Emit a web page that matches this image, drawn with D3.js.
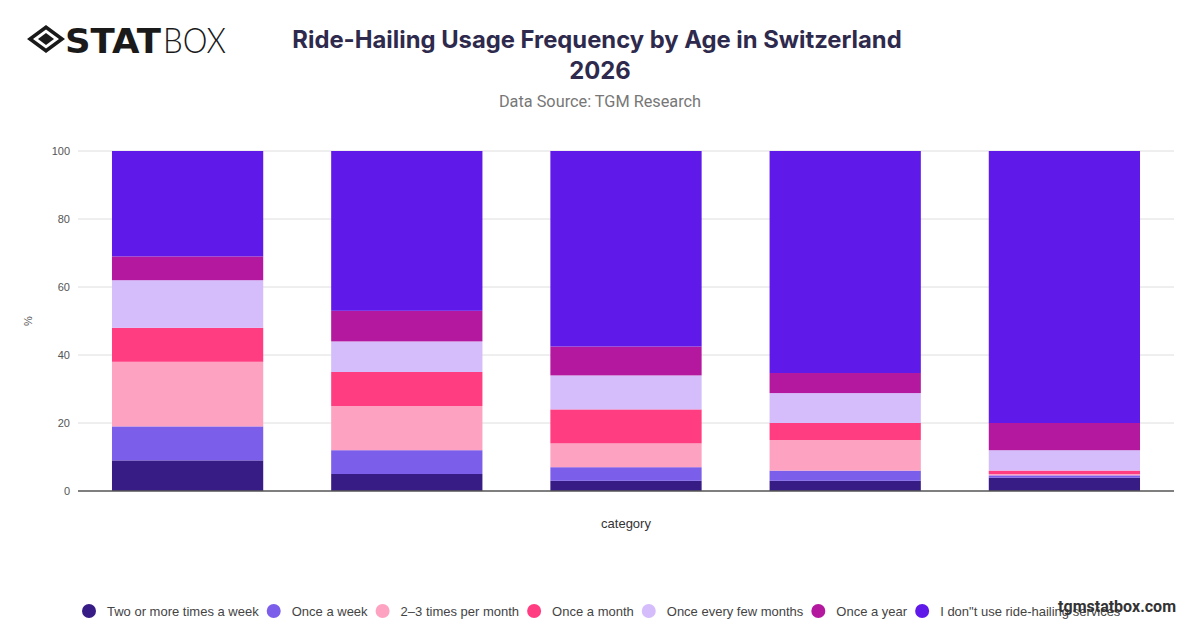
<!DOCTYPE html>
<html><head><meta charset="utf-8">
<script src="https://cdn.jsdelivr.net/npm/d3@7/dist/d3.min.js"></script>
<style>
body{margin:0;background:#fff;}
svg{display:block;}
</style></head>
<body>
<svg id="chart" width="1200" height="628"></svg>
<script>
const categories = ["18–24", "25–34", "35–44", "45–54", "55+"];
const seriesNames = ["Two or more times a week", "Once a week", "2–3 times per month", "Once a month", "Once every few months", "Once a year", "I don\"t use ride-hailing services"];
const twoOrMore   = [9, 5, 3, 3, 3.9];
const onceWeek    = [10, 7, 4, 3, 0.7];
const twoThree    = [19, 13, 7, 9, 0.4];
const onceMonth   = [10, 10, 10, 5, 1];
const fewMonths   = [14, 9, 10, 8.8, 6];
const onceYear    = [7, 9, 8.5, 5.9, 8];
const dontUse     = [31, 47, 57.5, 65.3, 80];
const yTicks = [0, 20, 40, 60, 80, 100];
const colors = ["#381c86", "#7b5ee9", "#fda2c1", "#ff3d80", "#d5bcfb", "#b3189f", "#5f19e9"];

const seriesValues = [twoOrMore, onceWeek, twoThree, onceMonth, fewMonths, onceYear, dontUse];
const rows = categories.map((c, i) => {
  const r = {category: c};
  seriesNames.forEach((s, j) => r[s] = seriesValues[j][i]);
  return r;
});

const svg = d3.select("#chart");
const margin = {left: 78, right: 26, top: 151, bottom: 137};
const W = 1200, H = 628;

const x = d3.scaleBand().domain(categories).range([margin.left, W - margin.right]).paddingInner(0.31).paddingOuter(0.155);
const y = d3.scaleLinear().domain([0, 100]).range([H - margin.bottom, margin.top]);

// grid
svg.append("g").selectAll("line").data(yTicks.filter(t => t > 0)).join("line")
  .attr("x1", margin.left).attr("x2", W - margin.right)
  .attr("y1", d => y(d)).attr("y2", d => y(d))
  .attr("stroke", "#dedede").attr("stroke-width", 1);

// stacks
const stack = d3.stack().keys(seriesNames)(rows);
svg.append("g").selectAll("g").data(stack).join("g")
  .attr("fill", (d, i) => colors[i])
  .selectAll("rect").data(d => d).join("rect")
  .attr("x", d => x(d.data.category))
  .attr("width", x.bandwidth())
  .attr("y", d => y(d[1]))
  .attr("height", d => y(d[0]) - y(d[1]));

// y axis
const yAxis = svg.append("g").attr("transform", `translate(${margin.left - 8},0)`)
  .call(d3.axisLeft(y).tickValues(yTicks).tickSize(0).tickPadding(0));
yAxis.select(".domain").remove();
yAxis.selectAll("text").attr("font-family", "Liberation Sans, Arial, sans-serif").attr("font-size", 11).attr("fill", "#555");

// x axis
const xAxis = svg.append("g").attr("transform", `translate(0,${y(0)})`)
  .call(d3.axisBottom(x).tickSize(0).tickFormat(() => ""));
xAxis.select(".domain").attr("stroke", "#555").attr("stroke-width", 1.5).attr("d", `M${margin.left},0H${W - margin.right}`);

// axis titles
svg.append("text").attr("x", (margin.left + W - margin.right) / 2).attr("y", 528)
  .attr("text-anchor", "middle").attr("font-family", "Liberation Sans, Arial, sans-serif")
  .attr("font-size", 13).attr("fill", "#333").text("category");
svg.append("text").attr("transform", `translate(32,${(y(0) + y(100)) / 2}) rotate(-90)`)
  .attr("text-anchor", "middle").attr("font-family", "Liberation Sans, Arial, sans-serif")
  .attr("font-size", 11).attr("fill", "#555").text("%");

// title
svg.append("text").attr("x", 597).attr("y", 48).attr("text-anchor", "middle")
  .attr("font-family", "Inter, Roboto, sans-serif").attr("font-weight", 700).attr("font-size", 23.8)
  .attr("fill", "#2e2a4d").text("Ride-Hailing Usage Frequency by Age in Switzerland");
svg.append("text").attr("x", 600).attr("y", 79).attr("text-anchor", "middle")
  .attr("font-family", "Inter, Roboto, sans-serif").attr("font-weight", 700).attr("font-size", 23.8)
  .attr("fill", "#2e2a4d").text("2026");
svg.append("text").attr("x", 600).attr("y", 107).attr("text-anchor", "middle")
  .attr("font-family", "Roboto, Inter, sans-serif").attr("font-size", 16.3)
  .attr("fill", "#777").text("Data Source: TGM Research");

// logo
const logo = svg.append("g").attr("transform", "translate(27,25)");
logo.append("path").attr("d", "M19,0 L38,14 L19,28 L0,14 Z M19,4.5 L32,14 L19,23.5 L6,14 Z").attr("fill", "#1a1a1a").attr("fill-rule", "evenodd");
logo.append("path").attr("d", "M19,8 L27,14 L19,20 L11,14 Z").attr("fill", "#1a1a1a");
logo.append("text").attr("x", 38).attr("y", 28).attr("font-family", "DejaVu Sans, sans-serif").attr("font-weight", 900)
  .attr("font-size", 34).attr("fill", "#1a1a1a").attr("textLength", 96).attr("lengthAdjust", "spacingAndGlyphs").text("STAT");
logo.append("text").attr("x", 136).attr("y", 28).attr("font-family", "Lato, sans-serif").attr("font-weight", 300)
  .attr("font-size", 36).attr("fill", "#1a1a1a").attr("textLength", 63).attr("lengthAdjust", "spacingAndGlyphs").text("BOX");

// legend
const legend = svg.append("g");
const items = legend.selectAll("g").data(seriesNames).join("g");
items.append("circle").attr("r", 7).attr("cy", 0).attr("cx", 0).attr("fill", (d, i) => colors[i]);
items.append("text").attr("x", 18).attr("y", 4.5).attr("font-family", "Liberation Sans, Arial, sans-serif")
  .attr("font-size", 13).attr("fill", "#444").text(d => d);
let pos = 0;
const offsets = [];
items.each(function() {
  const w = d3.select(this).select("text").node().getComputedTextLength();
  offsets.push(pos);
  pos += 18 + w + 15;
});
const startX = 89;
items.attr("transform", (d, i) => `translate(${startX + offsets[i]},611)`);

// watermark
svg.append("text").attr("x", 1176).attr("y", 612).attr("text-anchor", "end")
  .attr("font-family", "Roboto, Liberation Sans, sans-serif").attr("font-weight", 700).attr("font-size", 16)
  .attr("fill", "#333").text("tgmstatbox.com");
</script>
</body></html>
